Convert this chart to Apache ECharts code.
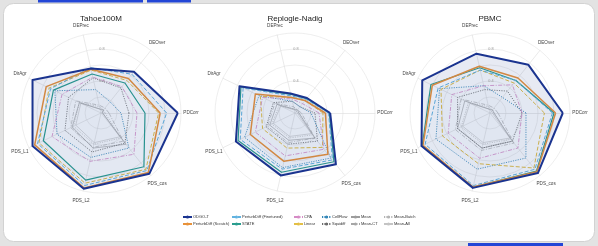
<!DOCTYPE html>
<html>
<head>
<meta charset="utf-8">
<script src="https://cdn.jsdelivr.net/npm/echarts@6/dist/echarts.min.js"></script>
<style>
html, body { margin: 0; padding: 0; background: #e3e3e3; }
#chart { width: 598px; height: 246px; }
</style>
</head>
<body>
<div id="chart"></div>
<script>
// panels and axes (counter-clockwise from the right, like the original polar plot)
var datasets = ['Tahoe100M', 'Replogle-Nadig', 'PBMC']
var metrics = ['PDCorr', 'DEOver', 'DEPrec', 'DirAgr', 'PDS_L1', 'PDS_L2', 'PDS_cos']
var rTickLabels = [0.4, 0.8]

// legend order (column by column)
var methods = ['ODGO-T', 'PerturbDiff (Scratch)', 'PerturbDiff (Finetuned)', 'STATE',
  'CPA', 'Linear', 'CellFlow', 'Squidiff', 'Mean', 'Mean-CT', 'Mean-Batch', 'Mean-All']

// one row per method, values in metrics order
var tahoeScores = [
  [0.96, 0.66, 0.57, 0.95, 0.95, 0.97, 0.97],
  [0.74, 0.55, 0.56, 0.76, 0.92, 0.96, 0.95],
  [0.82, 0.62, 0.58, 0.70, 0.88, 0.93, 0.92],
  [0.55, 0.48, 0.50, 0.66, 0.80, 0.86, 0.86],
  [0.45, 0.42, 0.46, 0.54, 0.68, 0.62, 0.66],
  [0.72, 0.52, 0.55, 0.72, 0.86, 0.90, 0.90],
  [0.25, 0.18, 0.30, 0.64, 0.61, 0.57, 0.56],
  [0.35, 0.40, 0.45, 0.45, 0.50, 0.50, 0.48],
  [0.02, 0.05, 0.05, 0.30, 0.40, 0.45, 0.50],
  [0.10, 0.08, 0.10, 0.35, 0.42, 0.44, 0.45],
  [0.05, 0.05, 0.08, 0.30, 0.38, 0.40, 0.40],
  [0.02, 0.03, 0.05, 0.28, 0.35, 0.38, 0.38]
]
var replogleScores = [
  [0.44, 0.24, 0.25, 0.77, 0.82, 0.80, 0.82],
  [0.38, 0.20, 0.20, 0.55, 0.62, 0.62, 0.66],
  [0.42, 0.22, 0.22, 0.72, 0.76, 0.72, 0.75],
  [0.43, 0.23, 0.24, 0.75, 0.79, 0.76, 0.78],
  [0.30, 0.15, 0.18, 0.45, 0.55, 0.55, 0.58],
  [0.35, 0.20, 0.20, 0.48, 0.45, 0.45, 0.55],
  [0.20, 0.10, 0.15, 0.50, 0.70, 0.70, 0.72],
  [0.25, 0.10, 0.15, 0.30, 0.40, 0.40, 0.45],
  [0.05, 0.05, 0.05, 0.25, 0.35, 0.35, 0.40],
  [0.08, 0.05, 0.08, 0.28, 0.38, 0.38, 0.40],
  [0.05, 0.03, 0.05, 0.22, 0.32, 0.32, 0.35],
  [0.03, 0.03, 0.04, 0.20, 0.30, 0.30, 0.33]
]
var pbmcScores = [
  [0.91, 0.77, 0.76, 0.94, 0.95, 0.96, 0.96],
  [0.82, 0.56, 0.60, 0.80, 0.93, 0.95, 0.94],
  [0.78, 0.52, 0.55, 0.72, 0.90, 0.93, 0.90],
  [0.80, 0.52, 0.58, 0.82, 0.94, 0.95, 0.93],
  [0.40, 0.45, 0.35, 0.53, 0.58, 0.58, 0.56],
  [0.68, 0.48, 0.55, 0.68, 0.66, 0.65, 0.88],
  [0.45, 0.25, 0.35, 0.70, 0.75, 0.72, 0.72],
  [0.40, 0.35, 0.30, 0.45, 0.45, 0.45, 0.45],
  [0.05, 0.05, 0.05, 0.35, 0.45, 0.45, 0.45],
  [0.10, 0.08, 0.10, 0.40, 0.48, 0.48, 0.48],
  [0.05, 0.05, 0.08, 0.30, 0.40, 0.40, 0.42],
  [0.03, 0.03, 0.05, 0.28, 0.38, 0.38, 0.40]
]
var allScores = [tahoeScores, replogleScores, pbmcScores]

// look of every method
var styles = {
  'ODGO-T': { color: '#1b3490', width: 2, type: 'solid', fill: 0.15 },
  'PerturbDiff (Scratch)': { color: '#e8923a', width: 1.5, type: 'solid', fill: 0 },
  'PerturbDiff (Finetuned)': { color: '#62b3e0', width: 1, type: [4, 2], fill: 0.03 },
  'STATE': { color: '#2a9d8f', width: 1.2, type: 'solid', fill: 0 },
  'CPA': { color: '#d68cc6', width: 0.8, type: [4, 1.5, 1, 1.5], fill: 0 },
  'Linear': { color: '#e3bf45', width: 1, type: [4, 2], fill: 0 },
  'CellFlow': { color: '#3487b8', width: 0.8, type: [1.2, 1.2], fill: 0.02 },
  'Squidiff': { color: '#6b6b6b', width: 0.8, type: [1.2, 1.2], fill: 0 },
  'Mean': { color: '#9c9c9c', width: 0.6, type: 'solid', fill: 0 },
  'Mean-CT': { color: '#a6a6a6', width: 0.6, type: [4, 1.5, 1, 1.5], fill: 0 },
  'Mean-Batch': { color: '#b5b5b5', width: 0.6, type: [1.2, 1.2], fill: 0 },
  'Mean-All': { color: '#c4c4c4', width: 0.6, type: 'solid', fill: 0 }
}

var centers = [[101, 113], [295, 113], [490, 113]]
var radius = 80
var legendCols = [182, 231, 293, 321, 350, 383]

function hexAlpha (hex, a) {
  var n = parseInt(hex.slice(1), 16)
  return 'rgba(' + (n >> 16) + ',' + ((n >> 8) & 255) + ',' + (n & 255) + ',' + a + ')'
}

var radar = []
var polar = []
var angleAxis = []
var radiusAxis = []
var title = []
var series = []

for (var p = 0; p < datasets.length; p++) {
  title.push({
    text: datasets[p],
    left: centers[p][0],
    top: 15,
    padding: 0,
    textAlign: 'center',
    textStyle: { fontSize: 8, fontWeight: 'normal', color: '#222', fontFamily: 'Liberation Sans' }
  })
  radar.push({
    center: centers[p],
    radius: radius,
    startAngle: 0,
    shape: 'circle',
    splitNumber: 5,
    indicator: metrics.map(function (m) { return { name: m, min: 0, max: 1 } }),
    axisNameGap: 10,
    axisName: { color: '#444', fontSize: 4.6, fontFamily: 'Liberation Sans', align: 'center', verticalAlign: 'middle' },
    axisLine: { lineStyle: { color: '#dcdcdc', width: 0.6 } },
    splitLine: { lineStyle: { color: '#e2e2e2', width: 0.6 } },
    splitArea: { show: false }
  })
  polar.push({ center: centers[p], radius: radius })
  angleAxis.push({ polarIndex: p, startAngle: 90, min: 0, max: 360, show: false })
  radiusAxis.push({
    polarIndex: p,
    min: 0,
    max: 1,
    interval: 0.2,
    z: 20,
    axisLine: { show: false },
    axisTick: { show: false },
    splitLine: { show: false },
    axisLabel: {
      fontSize: 3.8,
      color: '#999',
      margin: -1,
      align: 'center',
      verticalAlign: 'middle',
      fontFamily: 'Liberation Sans',
      formatter: function (v) {
        return rTickLabels.some(function (t) { return Math.abs(t - v) < 1e-6 }) ? v.toFixed(1) : ''
      }
    }
  })
  var items = []
  for (var k = methods.length - 1; k >= 0; k--) {
    var s = styles[methods[k]]
    items.push({
      name: methods[k],
      value: allScores[p][k],
      lineStyle: { color: s.color, width: s.width, type: s.type },
      itemStyle: { color: s.color },
      areaStyle: { color: hexAlpha(s.color, s.fill) }
    })
  }
  series.push({
    type: 'radar',
    radarIndex: p,
    symbol: 'none',
    silent: true,
    data: items
  })
}

// empty line series that only give the legend its line icons
methods.forEach(function (m) {
  var s = styles[m]
  series.push({
    type: 'line',
    name: m,
    data: [],
    symbol: 'none',
    itemStyle: { color: s.color },
    lineStyle: { color: s.color, width: Math.min(s.width, 1.5), type: s.type }
  })
})

var legend = []
for (var c = 0; c < legendCols.length; c++) {
  legend.push({
    orient: 'vertical',
    left: legendCols[c],
    top: 215,
    itemWidth: 9,
    itemHeight: 4,
    itemGap: 3,
    padding: 0,
    data: methods.slice(c * 2, c * 2 + 2),
    textStyle: { fontSize: 4, color: '#333', fontFamily: 'Liberation Sans', padding: [0, 0, 0, -4] }
  })
}

var chart = echarts.init(document.getElementById('chart'))
chart.setOption({
  backgroundColor: '#e3e3e3',
  animation: false,
  title: title,
  legend: legend,
  grid: { left: -50, top: -50, width: 10, height: 10, show: false },
  xAxis: { show: false, type: 'value' },
  yAxis: { show: false, type: 'value' },
  radar: radar,
  polar: polar,
  angleAxis: angleAxis,
  radiusAxis: radiusAxis,
  graphic: [
    { type: 'rect', z: -10, shape: { x: 3.5, y: 3.5, width: 591, height: 238, r: 10 }, style: { fill: '#fff', stroke: '#d2d2d2', lineWidth: 1 } },
    { type: 'rect', z: -5, shape: { x: 38, y: 0, width: 105, height: 2.5 }, style: { fill: '#2346d6' } },
    { type: 'rect', z: -5, shape: { x: 147, y: 0, width: 44, height: 2.5 }, style: { fill: '#2346d6' } },
    { type: 'rect', z: -5, shape: { x: 468, y: 243, width: 95, height: 3 }, style: { fill: '#2346d6' } }
  ],
  series: series
})
</script>
</body>
</html>
